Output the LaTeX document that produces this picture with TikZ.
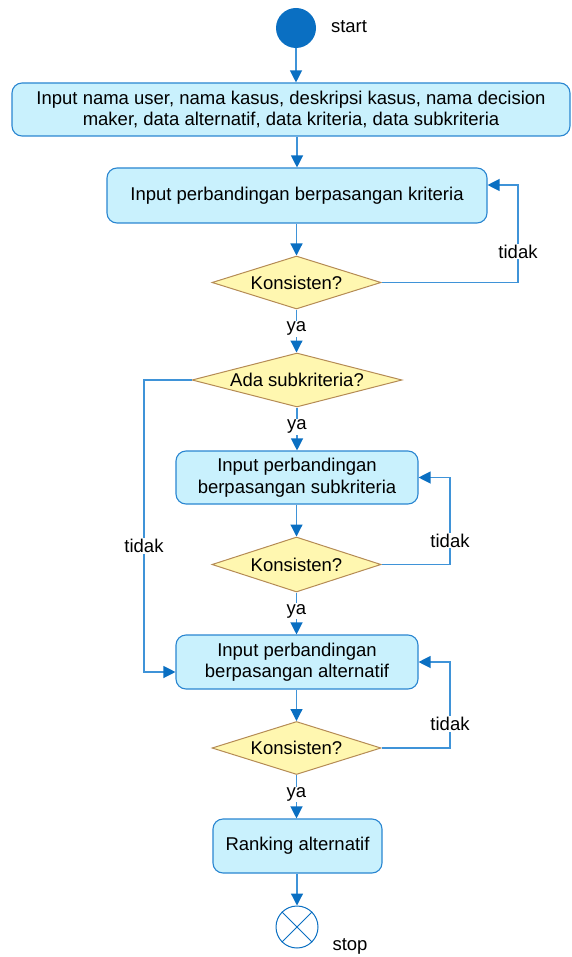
\documentclass[tikz,border=0pt]{standalone}
\usepackage{fontspec}
\setmainfont{Liberation Sans}
\usetikzlibrary{arrows.meta,shapes.geometric,shapes.misc}
\definecolor{boxfill}{HTML}{C9F1FD}
\definecolor{boxline}{HTML}{2A86D1}
\definecolor{dfill}{HTML}{FFF7B0}
\definecolor{dline}{HTML}{B58B55}
\definecolor{lnc}{HTML}{3F93D8}
\definecolor{arrc}{HTML}{0A6FC2}
\tikzset{
  x=1pt,y=-1pt,
  every node/.style={font=\fontsize{18.5}{21.5}\selectfont},
  proc/.style={draw=boxline,fill=boxfill,rounded corners=10pt,line width=1.1pt,align=center,inner sep=0pt},
  dec/.style={diamond,draw=dline,fill=dfill,line width=1pt,inner sep=0pt,aspect=3.2},
  arr/.style={draw=lnc,line width=1.2pt,-{Triangle[length=12pt,width=12pt,color=arrc]}},
  ln/.style={draw=lnc,line width=1.2pt},
  lab/.style={fill=white,inner sep=1pt},
  free/.style={inner sep=1pt}
}
\begin{document}
\begin{tikzpicture}
\useasboundingbox (0,0) rectangle (572,957);
\node[circle,fill=arrc,minimum size=40pt,inner sep=0pt] (start) at (296,28) {};
\node[free] (startl) at (349,27) {start};
\node[proc,minimum width=558pt,minimum height=53pt] (b1) at (291,109.5) {Input nama user, nama kasus, deskripsi kasus, nama decision\\maker, data alternatif, data kriteria, data subkriteria};
\node[proc,minimum width=380pt,minimum height=55pt] (b2) at (297,195.5) {Input perbandingan berpasangan kriteria};
\node[dec,minimum width=169pt,minimum height=53pt] (d1) at (296.5,282.5) {Konsisten?};
\node[dec,aspect=3.9,minimum width=210pt,minimum height=54pt] (d2) at (297,380) {Ada subkriteria?};
\node[proc,minimum width=242pt,minimum height=53pt] (b3) at (297,477.5) {Input perbandingan\\berpasangan subkriteria};
\node[dec,minimum width=169pt,minimum height=55pt] (d3) at (296.5,564.5) {Konsisten?};
\node[proc,minimum width=242pt,minimum height=54pt] (b4) at (297,662) {Input perbandingan\\berpasangan alternatif};
\node[dec,minimum width=169pt,minimum height=53pt] (d4) at (296.5,748) {Konsisten?};
\node[proc,minimum width=169pt,minimum height=54pt] (b5) at (297.5,846) {Ranking alternatif};
\node[circle,draw=arrc,fill=white,line width=1pt,minimum size=42pt,inner sep=0pt] (stop) at (297,927) {};
\draw[arrc,line width=0.9pt] (stop.north west) -- (stop.south east) (stop.north east) -- (stop.south west);
\node[free] (stopl) at (350,946) {stop};
% vertical flow
\draw[arr] (start.south) -- (start.south |- b1.north);
\draw[arr] (b1.south -| b2.north) -- (b2.north);
\draw[arr] (b2.south -| d1.north) -- (d1.north);
\draw[arr] (d1.south) -- (d1.south |- d2.north) node[lab,pos=0.45] (ya1) {ya};
\draw[arr] (d2.south) -- (d2.south |- b3.north) node[lab,pos=0.45] (ya2) {ya};
\draw[arr] (b3.south -| d3.north) -- (d3.north);
\draw[arr] (d3.south) -- (d3.south |- b4.north) node[lab,pos=0.45] (ya3) {ya};
\draw[arr] (b4.south -| d4.north) -- (d4.north);
\draw[arr] (d4.south) -- (d4.south |- b5.north) node[lab,pos=0.45] (ya4) {ya};
\draw[arr] (b5.south -| stop.north) -- (stop.north);
% loops
\coordinate (e2) at ([yshift=10.5pt]b2.east);
\draw[arr] (d1.east) -- (518,282.5) node[lab,pos=1,yshift=31pt] (t1) {tidak} -- (e2 -| 518,0) -- (e2);
\draw[arr] (d3.east) -- (450,564.5) node[lab,pos=1,yshift=24pt] (t2) {tidak} -- (450,477.5) -- (b3.east);
\draw[arr] (d4.east) -- (450,748) node[lab,pos=1,yshift=24pt] (t3) {tidak} -- (450,662) -- (b4.east);
\coordinate (w4) at ([yshift=-10pt]b4.west);
\draw[arr] (d2.west) -- (144,380) -- (144,546) node[lab] (t4) {tidak} -- (144,672) -- (w4);
\end{tikzpicture}
\end{document}
